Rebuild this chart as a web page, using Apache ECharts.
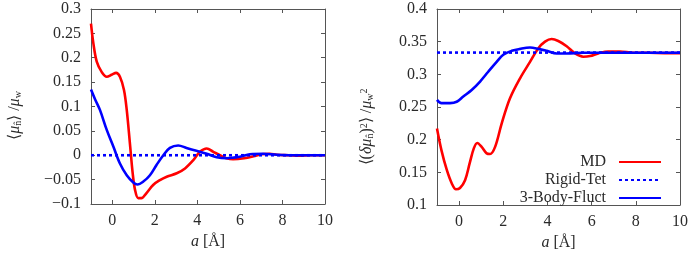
<!DOCTYPE html>
<html><head><meta charset="utf-8">
<script src="https://cdn.jsdelivr.net/npm/echarts@6/dist/echarts.min.js"></script>
<style>html,body{margin:0;padding:0;background:#fff}#c{width:692px;height:258px}</style>
</head><body><div id="c"></div>
<script>
// ---- data ----
const xTicks = [0, 2, 4, 6, 8, 10];
const seriesNames = ['MD', 'Rigid-Tet', '3-Body-Fluct'];

// left panel: <mu_n> / mu_w
const mdLeftA = [-1, -0.89, -0.73, -0.5, -0.26, -0.03, 0.18, 0.36, 0.55, 0.68, 0.83, 0.96, 1.07, 1.22, 1.37, 1.6, 1.92, 2.24, 2.56, 3.03, 3.42, 3.81, 4.12, 4.44, 4.75, 5.06, 5.37, 5.68, 6.2, 6.64, 7.0, 7.4, 7.74, 8.3, 8.8, 9.3, 10];
const mdLeftV = [0.27, 0.23, 0.192, 0.171, 0.161, 0.165, 0.169, 0.161, 0.134, 0.093, 0.024, -0.037, -0.071, -0.088, -0.088, -0.078, -0.061, -0.051, -0.044, -0.037, -0.027, -0.01, 0.007, 0.014, 0.007, 0.0, -0.006, -0.008, -0.006, -0.002, 0.002, 0.003, 0.001, 0.0, -0.001, 0.0, 0.0];
const rigidLeftA = [-1, 10];
const rigidLeftV = [0, 0];
const bodyLeftA = [-1, -0.8, -0.58, -0.26, 0.05, 0.36, 0.68, 0.99, 1.18, 1.46, 1.77, 2.08, 2.4, 2.71, 3.1, 3.49, 3.96, 4.44, 4.91, 5.37, 6.0, 6.47, 7.1, 7.74, 8.5, 9.2, 10];
const bodyLeftV = [0.135, 0.114, 0.093, 0.052, 0.018, -0.017, -0.041, -0.056, -0.06, -0.054, -0.041, -0.02, 0.0, 0.015, 0.02, 0.015, 0.009, 0.003, -0.004, -0.006, -0.003, 0.002, 0.003, 0.001, 0.0, 0.0, 0.0];

// right panel: <(delta mu_n)^2> / mu_w^2
const mdRightA = [-1, -0.8, -0.56, -0.33, -0.14, 0.04, 0.27, 0.48, 0.67, 0.82, 1.02, 1.25, 1.4, 1.63, 1.93, 2.3, 2.76, 3.21, 3.59, 3.89, 4.19, 4.49, 4.87, 5.25, 5.62, 5.93, 6.3, 6.76, 7.28, 7.89, 8.6, 9.3, 10];
const mdRightV = [0.217, 0.184, 0.154, 0.133, 0.124, 0.126, 0.138, 0.164, 0.187, 0.195, 0.189, 0.179, 0.178, 0.189, 0.225, 0.263, 0.294, 0.319, 0.34, 0.35, 0.354, 0.351, 0.343, 0.332, 0.327, 0.328, 0.332, 0.335, 0.335, 0.333, 0.333, 0.3325, 0.3325];
const rigidRightA = [-1, 10];
const rigidRightV = [0.3333, 0.3333];
const bodyRightA = [-1, -0.8, -0.41, -0.11, 0.19, 0.57, 0.95, 1.32, 1.7, 2.0, 2.38, 2.76, 3.21, 3.59, 3.97, 4.42, 4.87, 5.62, 6.5, 7.5, 8.5, 10];
const bodyRightV = [0.261, 0.256, 0.256, 0.258, 0.266, 0.276, 0.289, 0.304, 0.319, 0.33, 0.336, 0.339, 0.341, 0.339, 0.336, 0.332, 0.332, 0.333, 0.333, 0.333, 0.333, 0.333];

// ---- helpers ----
const zip = (a, v) => a.map((x, i) => [x, v[i]]);
const FONT = "serif";
const TXT = '#2a2a2a';
const AX = '#555';
const fmtY = v => String(+(+v).toFixed(2)).replace('-', '\u2212');
const rich = {
  i: { fontFamily: FONT, fontSize: 16, fontStyle: 'italic', color: TXT },
  sub: { fontFamily: FONT, fontSize: 10, verticalAlign: 'bottom', color: TXT },
  sup: { fontFamily: FONT, fontSize: 10, verticalAlign: 'top', color: TXT }
};

function xAxes(gi) {
  return [{
    type: 'value', gridIndex: gi, min: -1, max: 10, position: 'bottom',
    axisLine: { show: true, onZero: false, lineStyle: { color: AX, width: 1 } },
    axisTick: { show: true, inside: true, length: 4, customValues: xTicks, lineStyle: { color: AX } },
    axisLabel: { show: true, customValues: xTicks, margin: 9, fontFamily: FONT, fontSize: 16, color: TXT },
    splitLine: { show: false },
    name: '{i|a} [Å]', nameLocation: 'middle', nameGap: 30,
    nameTextStyle: { fontFamily: FONT, fontSize: 16, color: TXT, rich: rich }
  }, {
    type: 'value', gridIndex: gi, min: -1, max: 10, position: 'top',
    axisLine: { show: true, onZero: false, lineStyle: { color: AX, width: 1 } },
    axisTick: { show: true, inside: true, length: 4, customValues: xTicks, lineStyle: { color: AX } },
    axisLabel: { show: false }, splitLine: { show: false }
  }];
}
function yAxes(gi, min, max, name, pad, gap) {
  return [{
    type: 'value', gridIndex: gi, min: min, max: max, interval: 0.05, position: 'left',
    axisLine: { show: true, onZero: false, lineStyle: { color: AX, width: 1 } },
    axisTick: { show: true, inside: true, length: 4, lineStyle: { color: AX } },
    axisLabel: { show: true, margin: 10, fontFamily: FONT, fontSize: 16, color: TXT, formatter: fmtY },
    splitLine: { show: false },
    name: name, nameLocation: 'middle', nameGap: gap,
    nameTextStyle: { fontFamily: FONT, fontSize: 16, color: TXT, rich: rich, padding: pad }
  }, {
    type: 'value', gridIndex: gi, min: min, max: max, interval: 0.05, position: 'right',
    axisLine: { show: true, onZero: false, lineStyle: { color: AX, width: 1 } },
    axisTick: { show: true, inside: true, length: 4, lineStyle: { color: AX } },
    axisLabel: { show: false }, splitLine: { show: false }
  }];
}
function line(name, data, xi, yi, color, dotted) {
  return {
    type: 'line', name: name, data: data, xAxisIndex: xi, yAxisIndex: yi,
    symbol: 'none', showSymbol: false, smooth: dotted ? false : 0.35,
    lineStyle: { color: color, width: 2.6, type: dotted ? [3, 3] : 'solid', cap: 'butt' },
    itemStyle: { color: color }, silent: true, animation: false, z: (color === '#0000ff' && !dotted) ? 3 : 2
  };
}

const chart = echarts.init(document.getElementById('c'), null, { renderer: 'canvas' });
chart.setOption({
  animation: false,
  backgroundColor: '#fff',
  grid: [
    { left: 91, top: 9, width: 234, height: 195, containLabel: false, outerBoundsMode: 'none' },
    { left: 437, top: 9, width: 243, height: 196, containLabel: false, outerBoundsMode: 'none' }
  ],
  xAxis: [...xAxes(0), ...xAxes(1)],
  yAxis: [
    ...yAxes(0, -0.1, 0.3, '⟨{i|μ}{sub|n̂}⟩ /{i|μ}{sub|w}', [0, 18, 0, 0], 68),
    ...yAxes(1, 0.1, 0.4, '⟨({i|δμ}{sub|n̂}){sup|2}⟩ /{i|μ}{sub|w}{sup|2}', [0, 40, 0, 0], 62)
  ],
  legend: {
    data: seriesNames, orient: 'vertical', align: 'right',
    right: 30, top: 154, padding: 0, itemWidth: 42, itemHeight: 14, itemGap: 2,
    formatter: n => n + '\u2002',
    textStyle: { fontFamily: FONT, fontSize: 16, color: TXT, lineHeight: 16 },
    itemStyle: { opacity: 0 },
    selectedMode: false
  },
  series: [
    line('MD', zip(mdLeftA, mdLeftV), 0, 0, '#ff0000', false),
    line('Rigid-Tet', zip(rigidLeftA, rigidLeftV), 0, 0, '#0000ff', true),
    line('3-Body-Fluct', zip(bodyLeftA, bodyLeftV), 0, 0, '#0000ff', false),
    line('MD', zip(mdRightA, mdRightV), 2, 2, '#ff0000', false),
    line('Rigid-Tet', zip(rigidRightA, rigidRightV), 2, 2, '#0000ff', true),
    line('3-Body-Fluct', zip(bodyRightA, bodyRightV), 2, 2, '#0000ff', false)
  ]
});
</script></body></html>
